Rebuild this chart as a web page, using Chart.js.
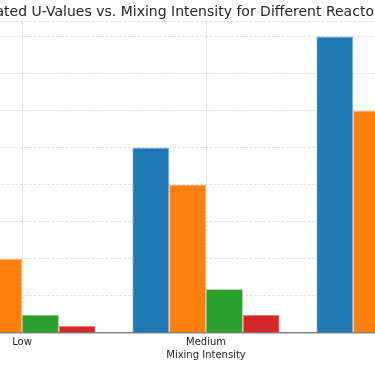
<!DOCTYPE html>
<html>
<head>
<meta charset="utf-8">
<script src="https://cdn.jsdelivr.net/npm/chart.js@4.4.0/dist/chart.umd.min.js"></script>
<style>
  html, body { margin: 0; padding: 0; background: #fff; overflow: hidden; }
  #wrap { position: relative; width: 375px; height: 366px; overflow: hidden; }
  #c { position: absolute; left: -100px; top: 0; }
</style>
</head>
<body>
<div id="wrap"><canvas id="c" width="600" height="366"></canvas></div>
<script>
const categories = ["Low", "Medium", "High"];
const seriesNames = ["Reactor A", "Reactor B", "Reactor C", "Reactor D"];
const reactorA = [200, 500, 800];
const reactorB = [200, 400, 600];
const reactorC = [49, 118, 185];
const reactorD = [19, 49, 80];
const colors = ["#1f77b4", "#ff7f0e", "#2ca02c", "#d62728"];
const titleText = "Estimated U-Values vs. Mixing Intensity for Different Reactor Systems";
const xLabel = "Mixing Intensity";

const seriesValues = [reactorA, reactorB, reactorC, reactorD];
const gridColor = "rgba(190,190,190,0.45)";

function lighten(hex, f) {
  const n = parseInt(hex.slice(1), 16);
  const r = (n >> 16) & 255, g = (n >> 8) & 255, b = n & 255;
  const m = (c) => Math.round(c + (255 - c) * f);
  return `rgb(${m(r)},${m(g)},${m(b)})`;
}

new Chart(document.getElementById("c"), {
  type: "bar",
  data: {
    labels: categories,
    datasets: seriesValues.map((vals, i) => ({
      label: seriesNames[i],
      data: vals,
      backgroundColor: colors[i],
      borderColor: lighten(colors[i], 0.4),
      borderWidth: 0.8,
      categoryPercentage: 0.8,
      barPercentage: 1.0
    }))
  },
  options: {
    responsive: false,
    animation: false,
    devicePixelRatio: 1,
    layout: { padding: { left: 18, right: 18, top: 0, bottom: 0 } },
    plugins: {
      legend: { display: false },
      tooltip: { enabled: false },
      title: {
        display: true,
        text: titleText,
        color: "#262626",
        font: { family: "DejaVu Sans", size: 14, weight: "normal" },
        padding: { top: 4, bottom: 1 }
      }
    },
    scales: {
      x: {
        z: 1,
        grid: { offset: false, color: gridColor, lineWidth: 1, drawTicks: true, tickLength: 3, tickColor: "rgba(0,0,0,0)" },
        border: { display: true, color: "#808080", width: 1.5, dash: [3, 1.5] },
        ticks: { color: "#262626", font: { family: "DejaVu Sans", size: 10 }, padding: 0, maxRotation: 0 },
        title: { display: true, text: xLabel, color: "#262626", font: { family: "DejaVu Sans", size: 10 }, padding: { top: 1, bottom: 5 } }
      },
      y: {
        z: 1,
        min: 0,
        max: 840,
        afterFit: (scale) => { scale.width = 12; },
        ticks: { display: false, stepSize: 100 },
        grid: { color: (ctx) => ctx.tick && ctx.tick.value === 0 ? "rgba(0,0,0,0)" : gridColor, lineWidth: 1, drawTicks: false },
        border: { display: false, dash: [3, 1.5] }
      }
    }
  }
});
</script>
</body>
</html>
